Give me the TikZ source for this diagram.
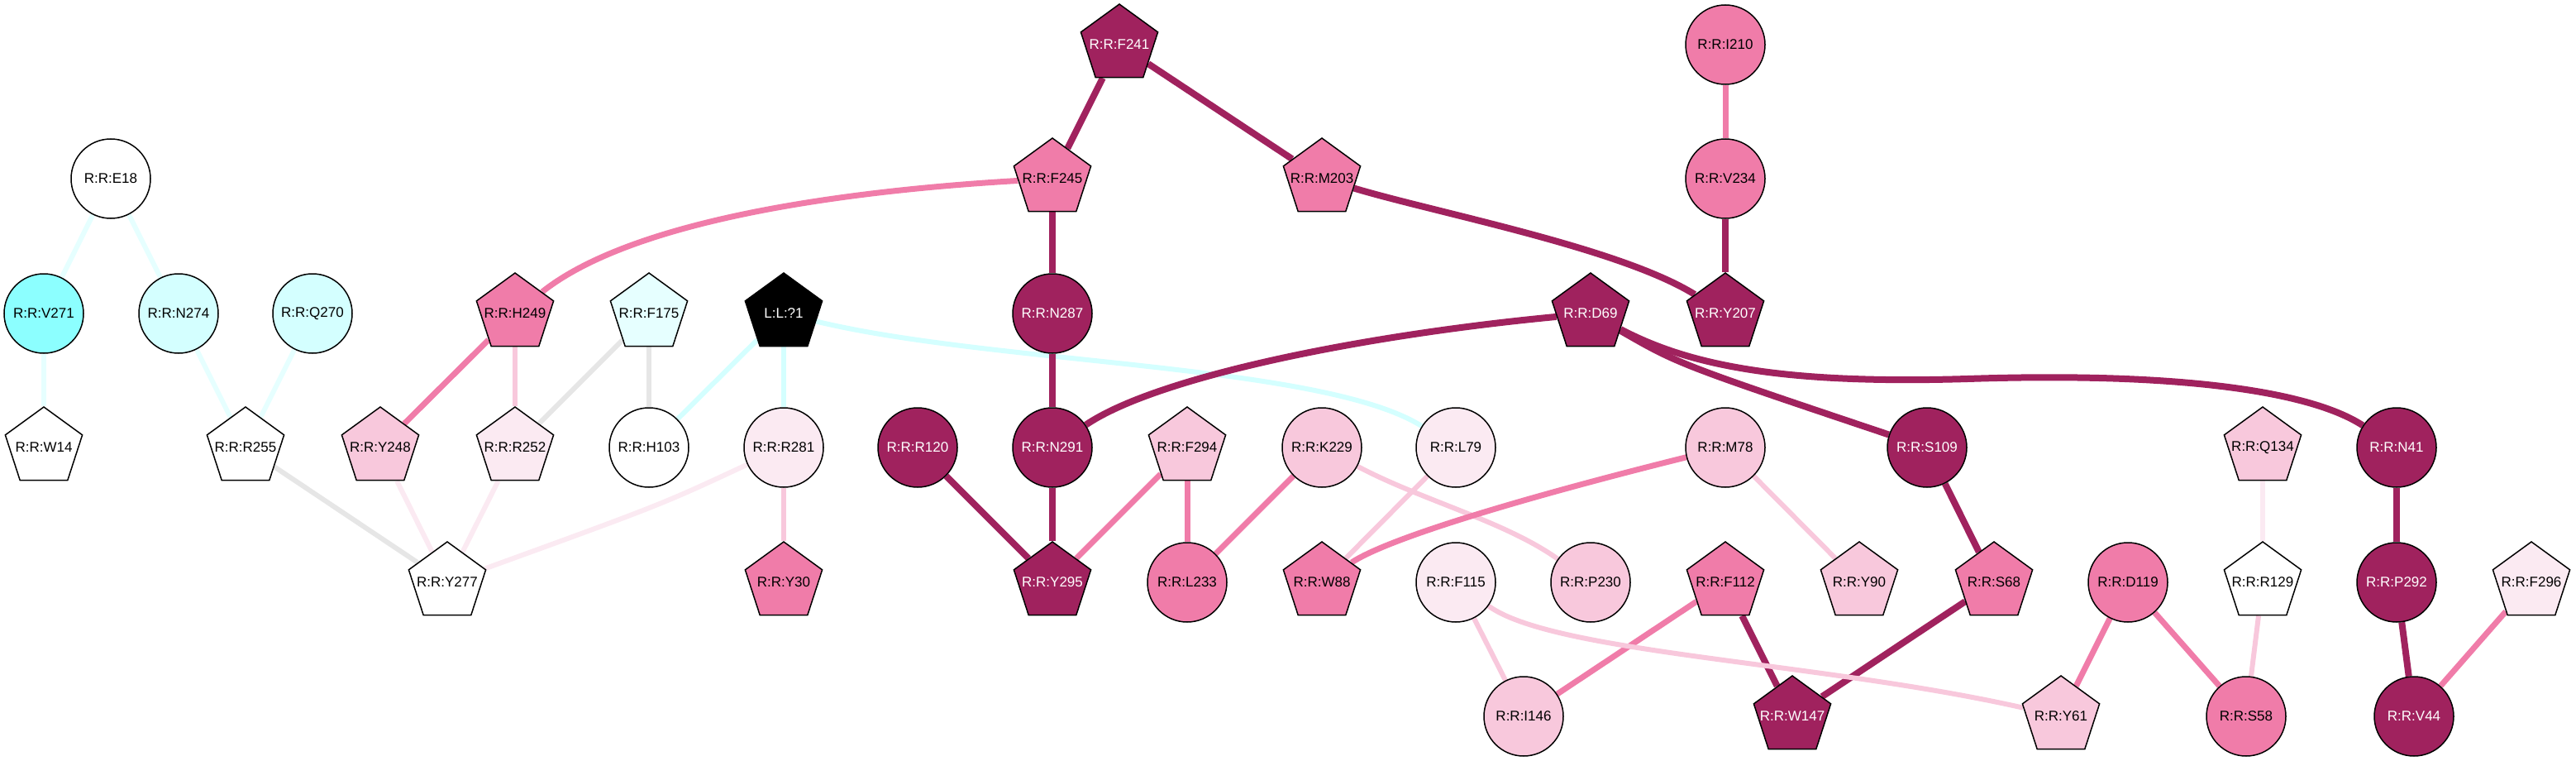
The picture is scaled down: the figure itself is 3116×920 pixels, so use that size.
\documentclass[tikz,border=0pt]{standalone}
\usepackage{fontspec}
\setmainfont{Liberation Sans}
\usetikzlibrary{shapes.geometric,backgrounds}
\definecolor{dkmag}{HTML}{A0225E}
\definecolor{mdpink}{HTML}{F07CA9}
\definecolor{ltpink}{HTML}{F8C8DC}
\definecolor{vppink}{HTML}{FBEAF2}
\definecolor{brcyan}{HTML}{8CFFFF}
\definecolor{ltcyan}{HTML}{D4FFFF}
\definecolor{vpcyan}{HTML}{E6FFFF}
\definecolor{ltgray}{HTML}{E6E6E6}

\begin{document}
\begin{tikzpicture}[x=0.5pt,y=0.5pt,yscale=-1,xscale=1,
  res/.style={draw=black,line width=0.75pt,inner sep=0pt,font=\fontsize{8.5}{10}\selectfont},
  rc/.style={res,circle,minimum size=48pt},
  rp/.style={res,regular polygon,regular polygon sides=5,minimum size=49pt},
  wt/.style={text=white},
  dk/.style={line width=4pt,draw=dkmag},
  md/.style={line width=3.5pt,draw=mdpink},
  lt/.style={line width=3pt,draw=ltpink},
  vp/.style={line width=3pt,draw=vppink},
  cy/.style={line width=3pt,draw=vpcyan},
  lc/.style={line width=3pt,draw=ltcyan},
  gr/.style={line width=3pt,draw=ltgray}]
\useasboundingbox (0,0) rectangle (3116,920);

% Row 0
\node [rp,wt,fill=dkmag] (F241) at (1354,54) {\makebox[0pt]{R:R:F241}};
\node [rc,fill=mdpink] (I210) at (2087,54) {R:R:I210};
% Row 1
\node [rc,fill=white] (E18) at (134,216) {R:R:E18};
\node [rp,fill=mdpink] (F245) at (1273,216) {\makebox[0pt]{R:R:F245}};
\node [rp,fill=mdpink] (M203) at (1599,216) {\makebox[0pt]{R:R:M203}};
\node [rc,fill=mdpink] (V234) at (2087,216) {R:R:V234};
% Row 2
\node [rc,fill=brcyan] (V271) at (53,379) {R:R:V271};
\node [rc,fill=ltcyan] (N274) at (216,379) {R:R:N274};
\node [rc,fill=ltcyan] (Q270) at (378,379) {R:R:Q270};
\node [rp,fill=mdpink] (H249) at (623,379) {\makebox[0pt]{R:R:H249}};
\node [rp,fill=vpcyan] (F175) at (785,379) {\makebox[0pt]{R:R:F175}};
\node [rp,wt,fill=black] (LL1) at (948,379) {\makebox[0pt]{L:L:?1}};
\node [rc,wt,fill=dkmag] (N287) at (1273,379) {R:R:N287};
\node [rp,wt,fill=dkmag] (D69) at (1924,379) {\makebox[0pt]{R:R:D69}};
\node [rp,wt,fill=dkmag] (Y207) at (2087,379) {\makebox[0pt]{R:R:Y207}};
% Row 3
\node [rp,fill=white] (W14) at (53,541) {\makebox[0pt]{R:R:W14}};
\node [rp,fill=white] (R255) at (297,541) {\makebox[0pt]{R:R:R255}};
\node [rp,fill=ltpink] (Y248) at (460,541) {\makebox[0pt]{R:R:Y248}};
\node [rp,fill=vppink] (R252) at (623,541) {\makebox[0pt]{R:R:R252}};
\node [rc,fill=white] (H103) at (785,541) {R:R:H103};
\node [rc,fill=vppink] (R281) at (948,541) {R:R:R281};
\node [rc,wt,fill=dkmag] (R120) at (1110,541) {R:R:R120};
\node [rc,wt,fill=dkmag] (N291) at (1273,541) {R:R:N291};
\node [rp,fill=ltpink] (F294) at (1436,541) {\makebox[0pt]{R:R:F294}};
\node [rc,fill=ltpink] (K229) at (1599,541) {R:R:K229};
\node [rc,fill=vppink] (L79) at (1761,541) {R:R:L79};
\node [rc,fill=ltpink] (M78) at (2087,541) {R:R:M78};
\node [rc,wt,fill=dkmag] (S109) at (2331,541) {R:R:S109};
\node [rp,fill=ltpink] (Q134) at (2737,541) {\makebox[0pt]{R:R:Q134}};
\node [rc,wt,fill=dkmag] (N41) at (2899,541) {R:R:N41};
% Row 4
\node [rp,fill=white] (Y277) at (541,704) {\makebox[0pt]{R:R:Y277}};
\node [rp,fill=mdpink] (Y30) at (948,704) {\makebox[0pt]{R:R:Y30}};
\node [rp,wt,fill=dkmag] (Y295) at (1273,704) {\makebox[0pt]{R:R:Y295}};
\node [rc,fill=mdpink] (L233) at (1436,704) {R:R:L233};
\node [rp,fill=mdpink] (W88) at (1599,704) {\makebox[0pt]{R:R:W88}};
\node [rc,fill=vppink] (F115) at (1761,704) {R:R:F115};
\node [rc,fill=ltpink] (P230) at (1924,704) {R:R:P230};
\node [rp,fill=mdpink] (F112) at (2087,704) {\makebox[0pt]{R:R:F112}};
\node [rp,fill=ltpink] (Y90) at (2249,704) {\makebox[0pt]{R:R:Y90}};
\node [rp,fill=mdpink] (S68) at (2412,704) {\makebox[0pt]{R:R:S68}};
\node [rc,fill=mdpink] (D119) at (2574,704) {R:R:D119};
\node [rp,fill=white] (R129) at (2737,704) {\makebox[0pt]{R:R:R129}};
\node [rc,wt,fill=dkmag] (P292) at (2899,704) {R:R:P292};
\node [rp,fill=vppink] (F296) at (3062,704) {\makebox[0pt]{R:R:F296}};
% Row 5
\node [rc,fill=ltpink] (I146) at (1843,866) {R:R:I146};
\node [rp,wt,fill=dkmag] (W147) at (2168,866) {\makebox[0pt]{R:R:W147}};
\node [rp,fill=ltpink] (Y61) at (2493,866) {\makebox[0pt]{R:R:Y61}};
\node [rc,fill=mdpink] (S58) at (2717,866) {R:R:S58};
\node [rc,wt,fill=dkmag] (V44) at (2920,866) {R:R:V44};

\begin{scope}[on background layer]
% Edges, left part
\draw [cy] (E18) -- (V271);
\draw [cy] (E18) -- (N274);
\draw [cy] (V271) -- (W14);
\draw [cy] (N274) -- (R255);
\draw [cy] (Q270) -- (R255);
\draw [gr] (R255) -- (Y277);
\draw [md] (H249) -- (Y248);
\draw [lt] (H249) -- (R252);
\draw [md] (F245) .. controls (1000,232) and (760,270) .. (H249);
\draw [gr] (F175) -- (R252);
\draw [gr] (F175) -- (H103);
\draw [lc] (LL1) -- (H103);
\draw [lc] (LL1) -- (R281);
\draw [lc] (LL1) .. controls (1200,440) and (1600,440) .. (L79);
\draw [vp] (Y248) -- (Y277);
\draw [vp] (R252) -- (Y277);
\draw [vp] (R281) .. controls (800,610) .. (Y277);
\draw [lt] (R281) -- (Y30);
% Edges, middle part
\draw [dk] (F241) -- (F245);
\draw [dk] (F241) -- (M203);
\draw [dk] (F245) -- (N287);
\draw [dk] (M203) .. controls (1740,258) and (1960,300) .. (Y207);
\draw [md] (I210) -- (V234);
\draw [dk] (V234) -- (Y207);
\draw [dk] (N287) -- (N291);
\draw [dk] (D69) .. controls (1650,405) and (1400,455) .. (N291);
\draw [dk] (D69) .. controls (2030,440) .. (S109);
\draw [dk] (D69) .. controls (2040,440) and (2150,465) .. (2380,458)
  .. controls (2620,450) and (2790,470) .. (N41);
\draw [dk] (R120) -- (Y295);
\draw [dk] (N291) -- (Y295);
\draw [md] (F294) -- (Y295);
\draw [md] (F294) -- (L233);
\draw [md] (K229) -- (L233);
\draw [lt] (K229) .. controls (1720,605) and (1820,630) .. (P230);
\draw [lt] (L79) -- (W88);
\draw [md] (M78) .. controls (1850,600) and (1680,650) .. (W88);
\draw [lt] (M78) -- (Y90);
% Edges, right part
\draw [dk] (S109) -- (S68);
\draw [dk] (S68) -- (W147);
\draw [dk] (F112) -- (W147);
\draw [md] (F112) -- (I146);
\draw [lt] (F115) -- (I146);
\draw [lt] (F115) .. controls (1880,790) and (2200,800) .. (Y61);
\draw [md] (D119) -- (Y61);
\draw [md] (D119) -- (S58);
\draw [vp] (Q134) -- (R129);
\draw [lt] (R129) -- (S58);
\draw [dk] (N41) -- (P292);
\draw [dk] (P292) -- (V44);
\draw [md] (F296) -- (V44);
\end{scope}
\end{tikzpicture}
\end{document}
